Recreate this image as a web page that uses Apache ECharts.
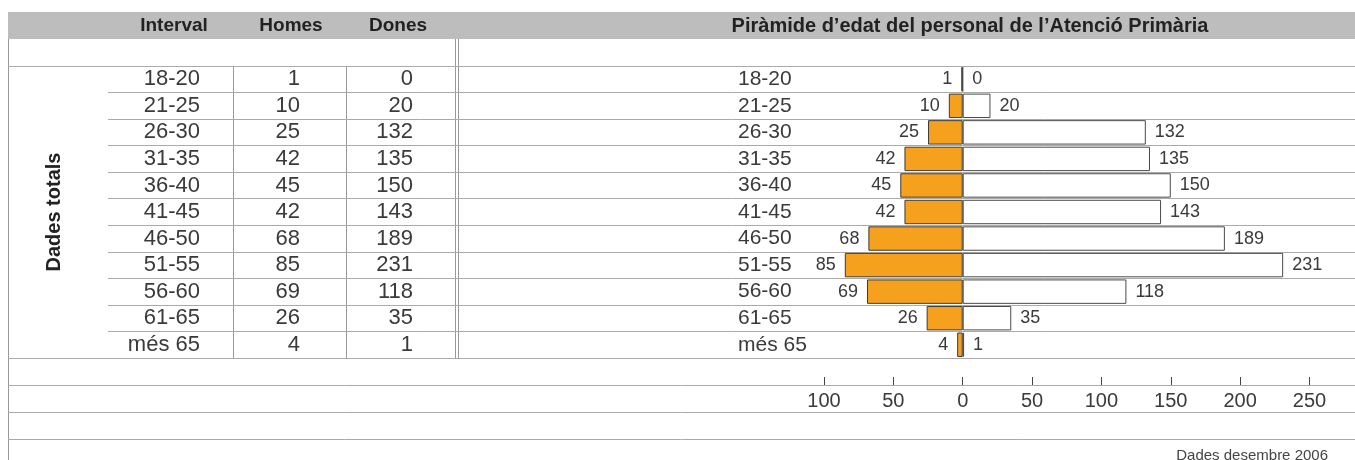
<!DOCTYPE html>
<html>
<head>
<meta charset="utf-8">
<title>Piràmide d'edat</title>
<script src="https://cdn.jsdelivr.net/npm/echarts@6/dist/echarts.min.js"></script>
<style>
	html,body{margin:0;padding:0;background:#fff;}
	#chart{width:1355px;height:460px;}
</style>
</head>
<body>
<div id="chart"></div>
<script>
// dades
var intervals = ['18-20','21-25','26-30','31-35','36-40','41-45','46-50','51-55','56-60','61-65','més 65'];
var homes = [1,10,25,42,45,42,68,85,69,26,4];
var dones = [0,20,132,135,150,143,189,231,118,35,1];
var headers = ['Interval','Homes','Dones'];
var title = 'Piràmide d’edat del personal de l’Atenció Primària';
var sideTitle = 'Dades totals';
var note = 'Dades desembre 2006';
var xTicks = {min:-100,max:250,step:50};

// posicions de la taula (px)
var font = '"Liberation Sans", Arial, sans-serif';
var top0 = 66, bottom0 = 358;
var colRight = [200,300,413];   // text alineat a la dreta
var headCenter = [174,291,398];
var lineColor = '#aaaaaa';
var txt = '#3a3a3a';

var myChart = echarts.init(document.getElementById('chart'));

// text de la taula: un punt invisible per cel·la
var tableData = [];
for(var i=0;i<intervals.length;i++){
	tableData.push({value:[colRight[0],intervals[i]],label:{formatter:intervals[i]}});
	tableData.push({value:[colRight[1],intervals[i]],label:{formatter:String(homes[i])}});
	tableData.push({value:[colRight[2],intervals[i]],label:{formatter:String(dones[i])}});
}

function hline(y,x1,x2){
	return {type:'line',shape:{x1:x1,y1:y,x2:x2,y2:y},style:{stroke:lineColor,lineWidth:1},silent:true};
}
function vline(x,y1,y2,c){
	return {type:'line',shape:{x1:x,y1:y1,x2:x,y2:y2},style:{stroke:c||'#999',lineWidth:1},silent:true};
}

var graphics = [
	{type:'rect',shape:{x:8,y:12,width:1347,height:27},style:{fill:'#bdbdbd'},silent:true},
	vline(8.5,39,460),
	vline(455.5,39,bottom0),
	vline(458.5,39,bottom0),
	vline(233.5,top0,bottom0),
	vline(346.5,top0,bottom0),
	hline(top0+0.5,8,1355),
	hline(bottom0+0.5,8,1355),
	hline(385.5,8,1355),
	hline(412.5,8,1355),
	hline(439.5,8,1355),
	{type:'text',x:54,y:212,rotation:Math.PI/2,
		style:{text:sideTitle,font:'bold 20px '+font,fill:'#222',align:'center',verticalAlign:'middle'}},
	{type:'text',x:970,y:26,
		style:{text:title,font:'bold 20px '+font,fill:'#222',align:'center',verticalAlign:'middle'}},
	{type:'text',x:1328,y:456,
		style:{text:note,font:'15px '+font,fill:'#444',align:'right',verticalAlign:'middle'}}
];
for(var h=0;h<headers.length;h++){
	graphics.push({type:'text',x:headCenter[h],y:26,
		style:{text:headers[h],font:'bold 19px '+font,fill:'#222',align:'center',verticalAlign:'middle'}});
}

var option = {
	backgroundColor:'#fff',
	animation:false,
	textStyle:{fontFamily:font,color:txt},
	grid:[
		// taula + línies de fila
		{left:108,right:0,top:top0,height:bottom0-top0},
		// piràmide
		{left:824,right:45.5,top:top0,height:bottom0-top0}
	],
	xAxis:[
		{gridIndex:0,type:'value',min:108,max:1355,show:false},
		{gridIndex:1,type:'value',min:xTicks.min,max:xTicks.max,interval:xTicks.step,
			position:'bottom',offset:27,
			axisLine:{show:false},
			axisTick:{show:true,inside:true,length:8,lineStyle:{color:'#444'}},
			axisLabel:{margin:6,fontSize:20,color:txt,formatter:function(v){return Math.abs(v);}},
			splitLine:{show:false}}
	],
	yAxis:[
		{gridIndex:0,type:'category',data:intervals,inverse:true,
			axisLine:{show:false},axisTick:{show:false},axisLabel:{show:false},
			splitLine:{show:true,lineStyle:{color:lineColor,width:1}}},
		{gridIndex:1,type:'category',data:intervals,inverse:true,
			axisLine:{show:false},axisTick:{show:false},
			axisLabel:{interval:0,align:'left',margin:86,fontSize:21,color:txt},
			splitLine:{show:false}}
	],
	series:[
		{
			name:'taula',type:'scatter',xAxisIndex:0,yAxisIndex:0,
			symbolSize:0,silent:true,
			itemStyle:{opacity:1},
			label:{show:true,position:'inside',align:'right',fontSize:22,color:txt,textBorderWidth:0},
			data:tableData
		},
		{
			name:'Homes',type:'bar',xAxisIndex:1,yAxisIndex:1,
			barWidth:'92%',barGap:'-100%',
			itemStyle:{color:'#f5a11e',borderColor:'#3a3a3a',borderWidth:1},
			label:{show:true,position:'left',distance:9,fontSize:18,color:txt,
				formatter:function(p){return Math.abs(p.value);}},
			data:homes.map(function(v){return -v;})
		},
		{
			name:'Dones',type:'bar',xAxisIndex:1,yAxisIndex:1,
			barWidth:'92%',barGap:'-100%',
			itemStyle:{color:'#fff',borderColor:'#4a4a4a',borderWidth:1},
			label:{show:true,position:'right',distance:9,fontSize:18,color:txt},
			data:dones
		}
	],
	graphic:graphics
};

myChart.setOption(option);
</script>
</body>
</html>
